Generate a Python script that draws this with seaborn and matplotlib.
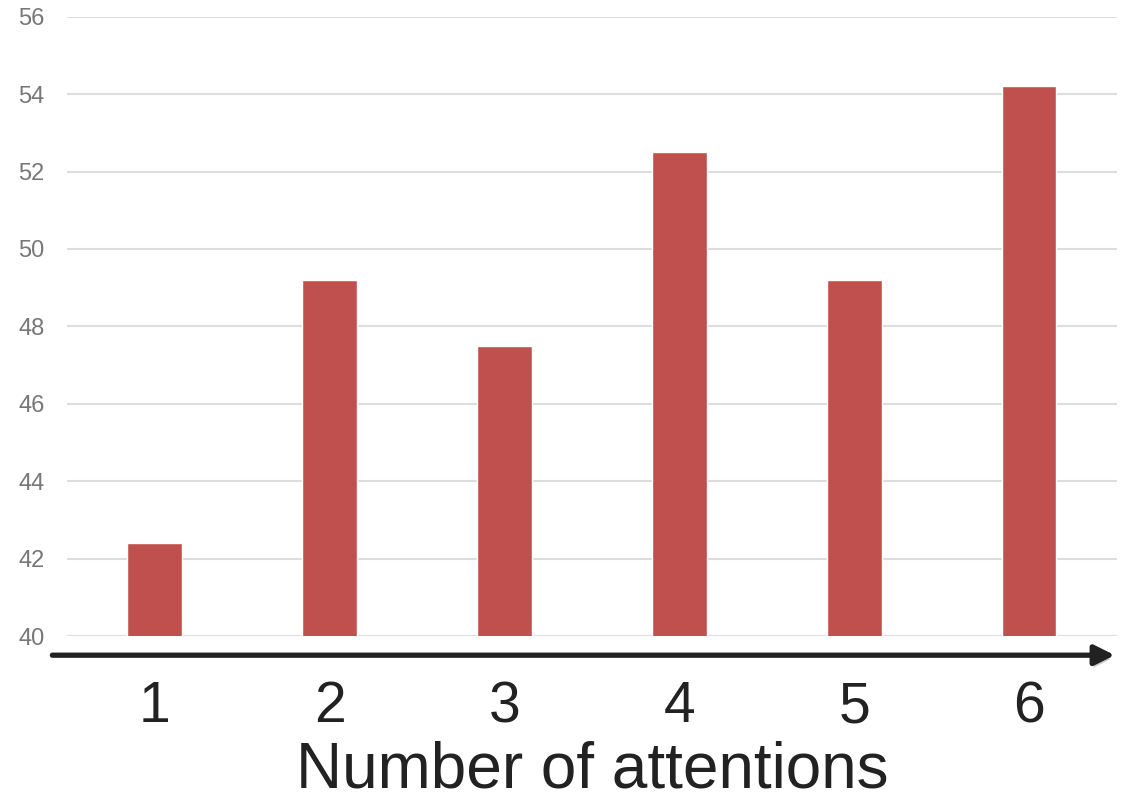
import matplotlib
matplotlib.use('Agg')
import matplotlib.pyplot as plt
import matplotlib.patheffects as pe
import seaborn as sns
import pandas as pd

# datos del grafico
attentions = ['1', '2', '3', '4', '5', '6']
scores = [42.4, 49.2, 47.5, 52.5, 49.2, 54.2]
y_ticks = [40, 42, 44, 46, 48, 50, 52, 54, 56]

df = pd.DataFrame({'attentions': attentions, 'score': scores})

sns.set_style('white')
plt.rcParams['font.family'] = ['Liberation Sans', 'DejaVu Sans']

fig = plt.figure(figsize=(11.27, 7.99), dpi=100)
ax = fig.add_axes([0.0595, 0.204, 0.9315, 0.775])

sns.barplot(data=df, x='attentions', y='score', color='#C0504D', saturation=1,
            width=0.31, ax=ax, zorder=3)

ax.set_ylim(40, 56)
ax.set_xlim(-0.5, 5.5)
ax.set_yticks(y_ticks)
ax.set_yticklabels([str(t) for t in y_ticks], fontsize=17, color='#777777')
ax.yaxis.grid(True, color='#dddddd', linewidth=1.5, zorder=0)
ax.tick_params(axis='y', length=0, pad=16)
ax.tick_params(axis='x', length=0, pad=32, labelsize=41, labelcolor='#222222')
for s in ax.spines.values():
    s.set_visible(False)
ax.set_ylabel('')
ax.set_xlabel('Number of attentions', fontsize=46, color='#222222', labelpad=4)

# flecha del eje x
ax.annotate('', xy=(0.998, -0.031), xytext=(-0.014, -0.031),
            xycoords='axes fraction', textcoords='axes fraction',
            arrowprops=dict(arrowstyle='-|>,head_length=1.2,head_width=0.6',
                            color='#222222', lw=3.8, shrinkA=0, shrinkB=0,
                            path_effects=[pe.SimplePatchShadow(offset=(1, -3), alpha=0.2),
                                          pe.Normal()]),
            annotation_clip=False)

fig.savefig('out.png', dpi=100)
